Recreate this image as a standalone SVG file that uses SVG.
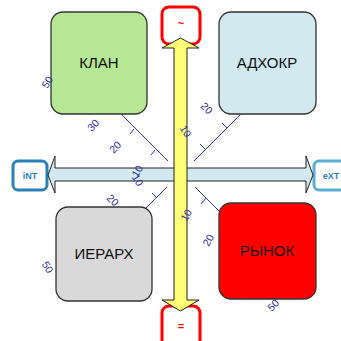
<svg xmlns="http://www.w3.org/2000/svg" width="341" height="341" viewBox="0 0 341 341">
<style>
.node{stroke:#333;stroke-width:1.3}
.lbl{font-family:"Liberation Sans",Arial,sans-serif;font-size:15px;fill:#111;text-anchor:middle}
.num{font-family:"Liberation Sans",Arial,sans-serif;font-size:10.5px;fill:#2e2e9a;text-anchor:middle;dominant-baseline:central}
.sc{stroke:#33339a;stroke-width:1;fill:none}
.rb{fill:#fff;stroke:#ff0000;stroke-width:3}
.rt{font-family:"Liberation Sans",Arial,sans-serif;font-size:11px;font-weight:bold;fill:#ff0000;text-anchor:middle}
.bt{font-family:"Liberation Sans",Arial,sans-serif;font-size:9px;font-weight:bold;fill:#2e7fbf;text-anchor:middle}
</style>
<rect width="341" height="341" fill="#fff"/>
<g id="klan"><rect class="node" x="51" y="12" width="96" height="102" rx="12" fill="#b6e795"/><text class="lbl" x="99" y="68">КЛАН</text></g>
<g id="adhokr"><rect class="node" x="219" y="12" width="97" height="102" rx="12" fill="#d2e9ef"/><text class="lbl" x="267" y="68">АДХОКР</text></g>
<g id="ierarh"><rect class="node" x="56" y="207" width="96" height="94" rx="12" fill="#d9d9d9"/><text class="lbl" x="104" y="259">ИЕРАРХ</text></g>
<g id="rynok"><rect class="node" x="219" y="203" width="97" height="96" rx="12" fill="#ff0000"/><text class="lbl" x="267" y="256">РЫНОК</text></g>
<g id="connectors">
<path class="sc" d="M121,114L168,161M134,129l-4,5M155,150l-4,5"/>
<path class="sc" d="M241,114L194,161M227,128l-5,-5M205,149l-5,-5"/>
<path class="sc" d="M146,208L167,187M157,198l-5,-5"/>
<path class="sc" d="M195,187L220,212M206,198l-5,6"/>
</g>
<g id="scale-labels">
<text class="num" transform="translate(47,82) rotate(-60)">50</text>
<text class="num" transform="translate(93,125) rotate(-45)">30</text>
<text class="num" transform="translate(115,147) rotate(-45)">20</text>
<text class="num" transform="translate(207,108) rotate(45)">20</text>
<text class="num" transform="translate(113,200) rotate(45)">20</text>
<text class="num" transform="translate(48,267) rotate(60)">50</text>
<text class="num" transform="translate(208,240) rotate(-60)">20</text>
<text class="num" transform="translate(273,305) rotate(-45)">50</text>
</g>
<g id="top"><rect class="rb" x="162" y="7" width="38" height="37" rx="7"/><text class="rt" x="181" y="27">~</text></g>
<g id="bottom"><rect class="rb" x="162" y="306" width="38" height="45" rx="7"/><text class="rt" x="181" y="330">=</text></g>
<g id="int"><rect x="13" y="161" width="34" height="29" rx="5" fill="#fff" stroke="#2a80b9" stroke-width="3"/><text class="bt" x="30" y="179">iNT</text></g>
<g id="ext"><rect x="314" y="161" width="34" height="29" rx="5" fill="#fff" stroke="#5aaed0" stroke-width="3"/><text class="bt" x="331" y="179">eXT</text></g>
<g id="h-arrow"><polygon points="48,175 55,156 55,168 306,168 306,156 313,175 306,193 306,181 55,181 55,193" fill="#d2e9ef" stroke="#222" stroke-width="1"/></g>
<g id="center-labels">
<text class="num" transform="translate(137,171) rotate(-60)">10</text>
<text class="num" transform="translate(138,180) rotate(60)">10</text>
</g>
<g id="v-arrow"><polygon points="180.5,38 199,48 187,48 187,300 199,300 180.5,311 162,300 174,300 174,48 162,48" fill="#ffff77" stroke="#222" stroke-width="1"/></g>
<g id="shaft-labels">
<text class="num" transform="translate(186,131) rotate(60)">10</text>
<text class="num" transform="translate(186,215) rotate(-60)">10</text>
</g>
</svg>
